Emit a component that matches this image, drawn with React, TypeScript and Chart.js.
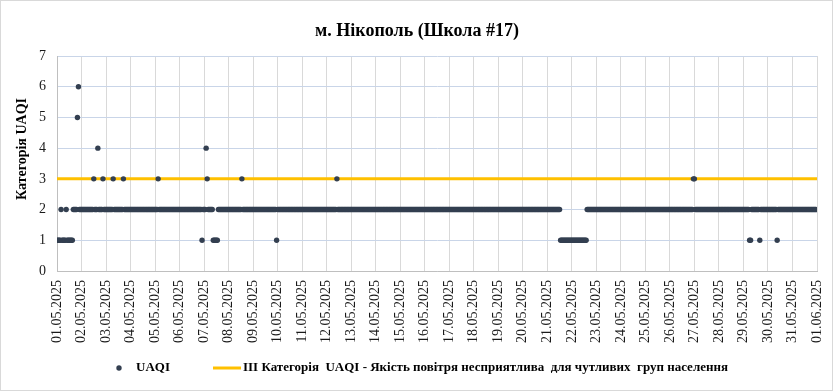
import { useEffect, useRef } from "react";
import { Chart, registerables } from "chart.js";

Chart.register(...registerables);

const TITLE = "м. Нікополь (Школа #17)";
const Y_TITLE = "Категорія UAQI";
const SERIES_LABEL = "UAQI";
const THRESHOLD_LABEL =
  "ІІІ Категорія  UAQI - Якість повітря несприятлива  для чутливих  груп населення";

const dayLabels = [
  "01.05.2025", "02.05.2025", "03.05.2025", "04.05.2025", "05.05.2025", "06.05.2025",
  "07.05.2025", "08.05.2025", "09.05.2025", "10.05.2025", "11.05.2025", "12.05.2025",
  "13.05.2025", "14.05.2025", "15.05.2025", "16.05.2025", "17.05.2025", "18.05.2025",
  "19.05.2025", "20.05.2025", "21.05.2025", "22.05.2025", "23.05.2025", "24.05.2025",
  "25.05.2025", "26.05.2025", "27.05.2025", "28.05.2025", "29.05.2025", "30.05.2025",
  "31.05.2025", "01.06.2025",
];

const TOTAL_HOURS = 744;

// Hourly UAQI category, stored as runs: run starts at hour runStartHours[i] with value runValues[i]
const runStartHours = [
  0, 4, 5, 9, 10, 16, 20, 21, 22, 36, 37, 40, 41, 45, 46, 55, 56, 65, 66, 99, 100,
  142, 143, 146, 147, 148, 153, 158, 181, 182, 215, 216, 274, 275, 493, 519, 623, 625,
  678, 680, 688, 689, 705, 706,
];
const runValues = [
  1, 2, 1, 2, 1, 2, 5, 6, 2, 3, 2, 4, 2, 3, 2, 3, 2, 3, 2, 3, 2,
  1, 2, 4, 3, 2, 1, 2, 3, 2, 1, 2, 3, 2, 1, 2, 3, 2,
  1, 2, 1, 2, 1, 2,
];

const thresholdValue = 3;
const yMin = 0;
const yMax = 7;

const SERIF = "'Liberation Serif', 'Times New Roman', serif";
const DOT_COLOR = "#333F50";
const LINE_COLOR = "#FFC000";

function buildSeries() {
  const pts: { x: number; y: number }[] = [];
  for (let i = 0; i < runStartHours.length; i++) {
    const end = i + 1 < runStartHours.length ? runStartHours[i + 1] : TOTAL_HOURS;
    for (let h = runStartHours[i]; h < end; h++) pts.push({ x: h, y: runValues[i] });
  }
  return pts;
}

const decorPlugin = {
  id: "decor",
  beforeDraw(chart: any) {
    const { ctx, width, height } = chart;
    ctx.save();
    ctx.fillStyle = "#fff";
    ctx.fillRect(0, 0, width, height);
    ctx.restore();
  },
  afterDraw(chart: any) {
    const { ctx, width, height } = chart;
    ctx.save();
    ctx.strokeStyle = "#d9d9d9";
    ctx.lineWidth = 1;
    ctx.strokeRect(0.5, 0.5, width - 1, height - 1);
    ctx.fillStyle = "#000";
    ctx.font = `bold 18px ${SERIF}`;
    ctx.textAlign = "center";
    ctx.textBaseline = "middle";
    ctx.fillText(TITLE, 417, 31);
    ctx.save();
    ctx.translate(22, 149);
    ctx.rotate(-Math.PI / 2);
    ctx.font = `bold 14px ${SERIF}`;
    ctx.fillText(Y_TITLE, 0, 0);
    ctx.restore();
    const ly = 368;
    ctx.fillStyle = DOT_COLOR;
    ctx.beginPath();
    ctx.arc(119, ly, 2.7, 0, Math.PI * 2);
    ctx.fill();
    ctx.fillStyle = "#000";
    ctx.font = `bold 13px ${SERIF}`;
    ctx.textAlign = "left";
    ctx.fillText(SERIES_LABEL, 136, ly);
    ctx.strokeStyle = LINE_COLOR;
    ctx.lineWidth = 3;
    ctx.beginPath();
    ctx.moveTo(213, ly);
    ctx.lineTo(241, ly);
    ctx.stroke();
    ctx.fillText(THRESHOLD_LABEL, 243, ly);
    ctx.restore();
  },
};

export default function App() {
  const ref = useRef<HTMLCanvasElement | null>(null);
  useEffect(() => {
    document.body.style.margin = "0";
    if (!ref.current) return;
    const series = buildSeries();
    const chart = new Chart(ref.current, {
      type: "scatter",
      data: {
        datasets: [
          {
            label: SERIES_LABEL,
            data: series,
            pointRadius: 2.7,
            pointBackgroundColor: DOT_COLOR,
            pointBorderWidth: 0,
            borderWidth: 0,
            order: 0,
          },
          {
            label: THRESHOLD_LABEL,
            data: [
              { x: 0, y: thresholdValue },
              { x: TOTAL_HOURS, y: thresholdValue },
            ],
            showLine: true,
            borderColor: LINE_COLOR,
            borderWidth: 3,
            pointRadius: 0,
            order: 1,
          },
        ],
      },
      options: {
        animation: false,
        responsive: false,
        devicePixelRatio: 1,
        layout: { padding: { top: 56, right: 16, bottom: 40, left: 0 } },
        plugins: {
          legend: { display: false },
          title: { display: false },
          tooltip: { enabled: false },
        },
        scales: {
          x: {
            type: "linear",
            min: 0,
            max: TOTAL_HOURS,
            afterBuildTicks: (s: any) => {
              s.ticks = dayLabels.map((_, i) => ({ value: i * 24 }));
            },
            afterFit: (s: any) => {
              s.height = 80;
              s.paddingLeft = 0;
              s.paddingRight = 0;
            },
            ticks: {
              autoSkip: false,
              maxRotation: 90,
              minRotation: 90,
              padding: 9,
              color: "#1a1a1a",
              font: { family: SERIF, size: 14 },
              callback: (_v: any, i: number) => dayLabels[i],
            },
            grid: { color: "#d9d9d9", drawTicks: false },
            border: { color: "#bfbfbf" },
          },
          y: {
            min: yMin,
            max: yMax,
            afterFit: (s: any) => {
              s.width = 57;
              s.paddingTop = 0;
              s.paddingBottom = 0;
            },
            ticks: {
              stepSize: 1,
              padding: 11,
              color: "#1a1a1a",
              font: { family: SERIF, size: 14 },
            },
            grid: { color: "#c9d5e8", drawTicks: false },
            border: { color: "#bfbfbf" },
          },
        },
      },
      plugins: [decorPlugin],
    });
    return () => chart.destroy();
  }, []);
  return (
    <div style={{ position: "absolute", left: 0, top: 0, width: 833, height: 391 }}>
      <canvas ref={ref} width={833} height={391} style={{ display: "block" }} />
    </div>
  );
}
